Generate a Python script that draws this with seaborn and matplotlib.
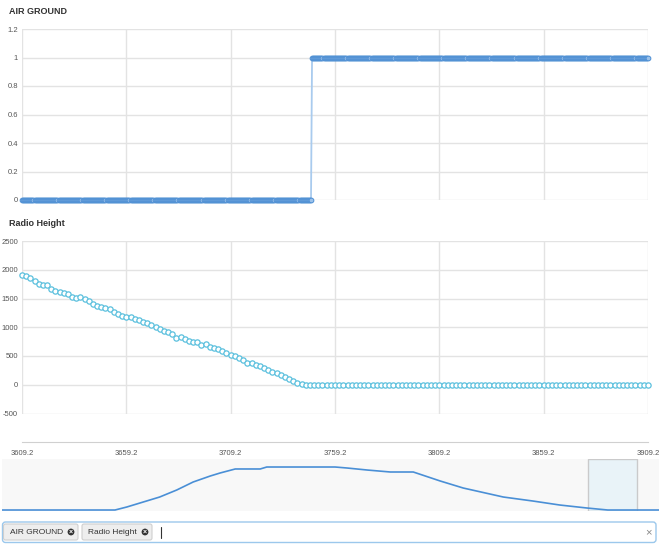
import numpy as np
import pandas as pd
import matplotlib
matplotlib.use("Agg")
import matplotlib.pyplot as plt
import matplotlib.patches as mpatches
import seaborn as sns

# ---------------- data ----------------
t_start, t_end = 3609.2, 3909.2
x_ticks = [3609.2, 3659.2, 3709.2, 3759.2, 3809.2, 3859.2, 3909.2]
x_tick_labels = ["3609.2", "3659.2", "3709.2", "3759.2", "3809.2", "3859.2", "3909.2"]

# AIR GROUND sampled every 0.5 s: 0 on ground (until 3748.0), 1 afterwards
air_ground_time = np.arange(3609.2, 3909.21, 0.5)
air_ground_vals = [0] * 278 + [1] * 323

# Radio Height sampled every 2 s
radio_time = np.arange(3609.2, 3909.21, 2.0)
radio_descent = [1908, 1897, 1862, 1810, 1757, 1729, 1740, 1671, 1636, 1619,
                 1595, 1572, 1531, 1502, 1520, 1497, 1450, 1404, 1375, 1346,
                 1334, 1311, 1270, 1235, 1201, 1177, 1183, 1143, 1120, 1091,
                 1079, 1032, 998, 974, 940, 911, 882, 812, 824, 800,
                 766, 737, 742, 690, 708, 655, 638, 615, 580, 545,
                 522, 499, 464, 423, 377, 383, 336, 325, 296, 261,
                 226, 197, 162, 133, 99, 64, 35, 12]
radio_vals = radio_descent + [0] * (len(radio_time) - len(radio_descent))

air_ticks = [0, 0.2, 0.4, 0.6, 0.8, 1.0, 1.2]
air_tick_labels = ["0", "0.2", "0.4", "0.6", "0.8", "1", "1.2"]
radio_ticks = [-500, 0, 500, 1000, 1500, 2000, 2500]
radio_tick_labels = ["-500", "0", "500", "1000", "1500", "2000", "2500"]

# overview navigator profile (position in % of full flight, relative altitude)
nav_pos = [0.0, 17.2, 19.0, 21.5, 24.0, 26.6, 29.1, 31.7, 33.2, 35.5, 39.3,
           40.3, 50.7, 52.5, 55.6, 59.1, 62.6, 66.7, 70.2, 76.3, 80.8, 84.9,
           89.0, 92.2, 100.0]
nav_alt = [0.019, 0.019, 0.077, 0.173, 0.269, 0.404, 0.558, 0.673, 0.731,
           0.808, 0.808, 0.846, 0.846, 0.827, 0.788, 0.75, 0.75, 0.577, 0.442,
           0.269, 0.192, 0.115, 0.058, 0.019, 0.019]
nav_window = [89.2, 96.6]

tags = ["AIR GROUND", "Radio Height"]

# ---------------- style ----------------
sns.set_theme(style="white")
plt.rcParams["font.family"] = ["Liberation Sans", "DejaVu Sans"]

W, H = 659, 544
fig = plt.figure(figsize=(W / 100, H / 100), dpi=100)
fig.patch.set_facecolor("white")


def px_axes(x0, y0, x1, y1):
    return fig.add_axes([x0 / W, 1 - y1 / H, (x1 - x0) / W, (y1 - y0) / H])


grid_c = "#e3e3e3"
lab_c = "#555555"

# ---------------- AIR GROUND ----------------
ax1 = px_axes(22, 29, 648, 200)
df1 = pd.DataFrame({"t": air_ground_time, "v": air_ground_vals})
sns.lineplot(data=df1, x="t", y="v", ax=ax1, color="#a9cbee", linewidth=1.3,
             marker="o", markersize=3.4, markerfacecolor="#9cc2ea",
             markeredgecolor="#4e8fd4", markeredgewidth=0.7, zorder=3,
             clip_on=False)
ax1.set_xlim(t_start, t_end)
ax1.set_ylim(0, 1.2)

# ---------------- Radio Height ----------------
ax2 = px_axes(22, 241, 648, 413.5)
df2 = pd.DataFrame({"t": radio_time, "v": radio_vals})
sns.lineplot(data=df2, x="t", y="v", ax=ax2, color="#5bc0de", linewidth=0.8,
             marker="o", markersize=3.8, markerfacecolor="white",
             markeredgecolor="#5bc0de", markeredgewidth=0.9, zorder=3,
             clip_on=False)
ax2.set_xlim(t_start, t_end)
ax2.set_ylim(-500, 2500)

for ax, yt, ytl in [(ax1, air_ticks, air_tick_labels), (ax2, radio_ticks, radio_tick_labels)]:
    ax.set_xlabel("")
    ax.set_ylabel("")
    ax.set_yticks(yt)
    ax.set_yticklabels(ytl)
    ax.set_xticks(x_ticks)
    ax.grid(True, color=grid_c, linewidth=1.0)
    ax.set_axisbelow(True)
    for s in ax.spines.values():
        s.set_visible(False)
    ax.tick_params(axis="y", length=0, pad=3, labelsize=5.5, labelcolor=lab_c)
    ax.set_facecolor("white")

ax1.tick_params(axis="x", length=0, labelbottom=False)

ax2.set_xticklabels(x_tick_labels)
ax2.spines["bottom"].set_visible(True)
ax2.spines["bottom"].set_color("#d0d0d0")
ax2.spines["bottom"].set_linewidth(0.8)
ax2.spines["bottom"].set_position(("outward", 20.5))
ax2.tick_params(axis="x", direction="inout", length=3, width=0.8, color="#d0d0d0",
                pad=4.5, labelsize=5.5, labelcolor=lab_c)

fig.text(9 / W, 1 - 11 / H, "AIR GROUND", fontsize=6.5, fontweight="bold",
         color="#333333", va="center", ha="left")
fig.text(9 / W, 1 - 223 / H, "Radio Height", fontsize=6.5, fontweight="bold",
         color="#333333", va="center", ha="left")

# ---------------- navigator ----------------
axn = px_axes(2, 459, 659, 511)
axn.set_facecolor("#f8f8f8")
dfn = pd.DataFrame({"p": nav_pos, "a": nav_alt})
sns.lineplot(data=dfn, x="p", y="a", ax=axn, color="#4a8fd6", linewidth=1.2)
axn.set_xlim(0, 100)
axn.set_ylim(0, 1)
axn.add_patch(mpatches.Rectangle((nav_window[0], 0), nav_window[1] - nav_window[0], 1,
                                 facecolor="#e8f3f9", edgecolor="#c6c6c6",
                                 linewidth=1.0, alpha=0.9, zorder=1))
axn.set_xlabel("")
axn.set_ylabel("")
axn.set_xticks([])
axn.set_yticks([])
for s in axn.spines.values():
    s.set_visible(False)

# ---------------- tag input box ----------------
axt = fig.add_axes([0, 0, 1, 1], facecolor="none")
axt.set_xlim(0, W)
axt.set_ylim(H, 0)
axt.axis("off")
axt.add_patch(mpatches.FancyBboxPatch((2.5, 522), 653.5, 20.5,
                                      boxstyle="round,pad=0,rounding_size=3",
                                      facecolor="white", edgecolor="#9cc8ec", linewidth=1.0))
tag_boxes = [(3.5, 78), (82, 152)]
for (x0, x1), name in zip(tag_boxes, tags):
    axt.add_patch(mpatches.FancyBboxPatch((x0, 524), x1 - x0, 16,
                                          boxstyle="round,pad=0,rounding_size=2",
                                          facecolor="#eeeeee", edgecolor="#cfcfcf",
                                          linewidth=0.8))
    axt.text(x0 + 6, 532.5, name, fontsize=6.0, color="#333333", va="center", ha="left")
    cx = x1 - 7
    axt.add_patch(mpatches.Circle((cx, 532), 3.4, facecolor="#333333", edgecolor="none"))
    axt.text(cx, 532.2, "×", fontsize=5, color="white", va="center", ha="center",
             fontweight="bold")
axt.plot([160.5, 160.5], [527, 538], color="#333333", linewidth=0.8)
axt.text(648, 532, "×", fontsize=8, color="#888888", va="center", ha="center")

fig.savefig("out.png", dpi=100, facecolor="white")
